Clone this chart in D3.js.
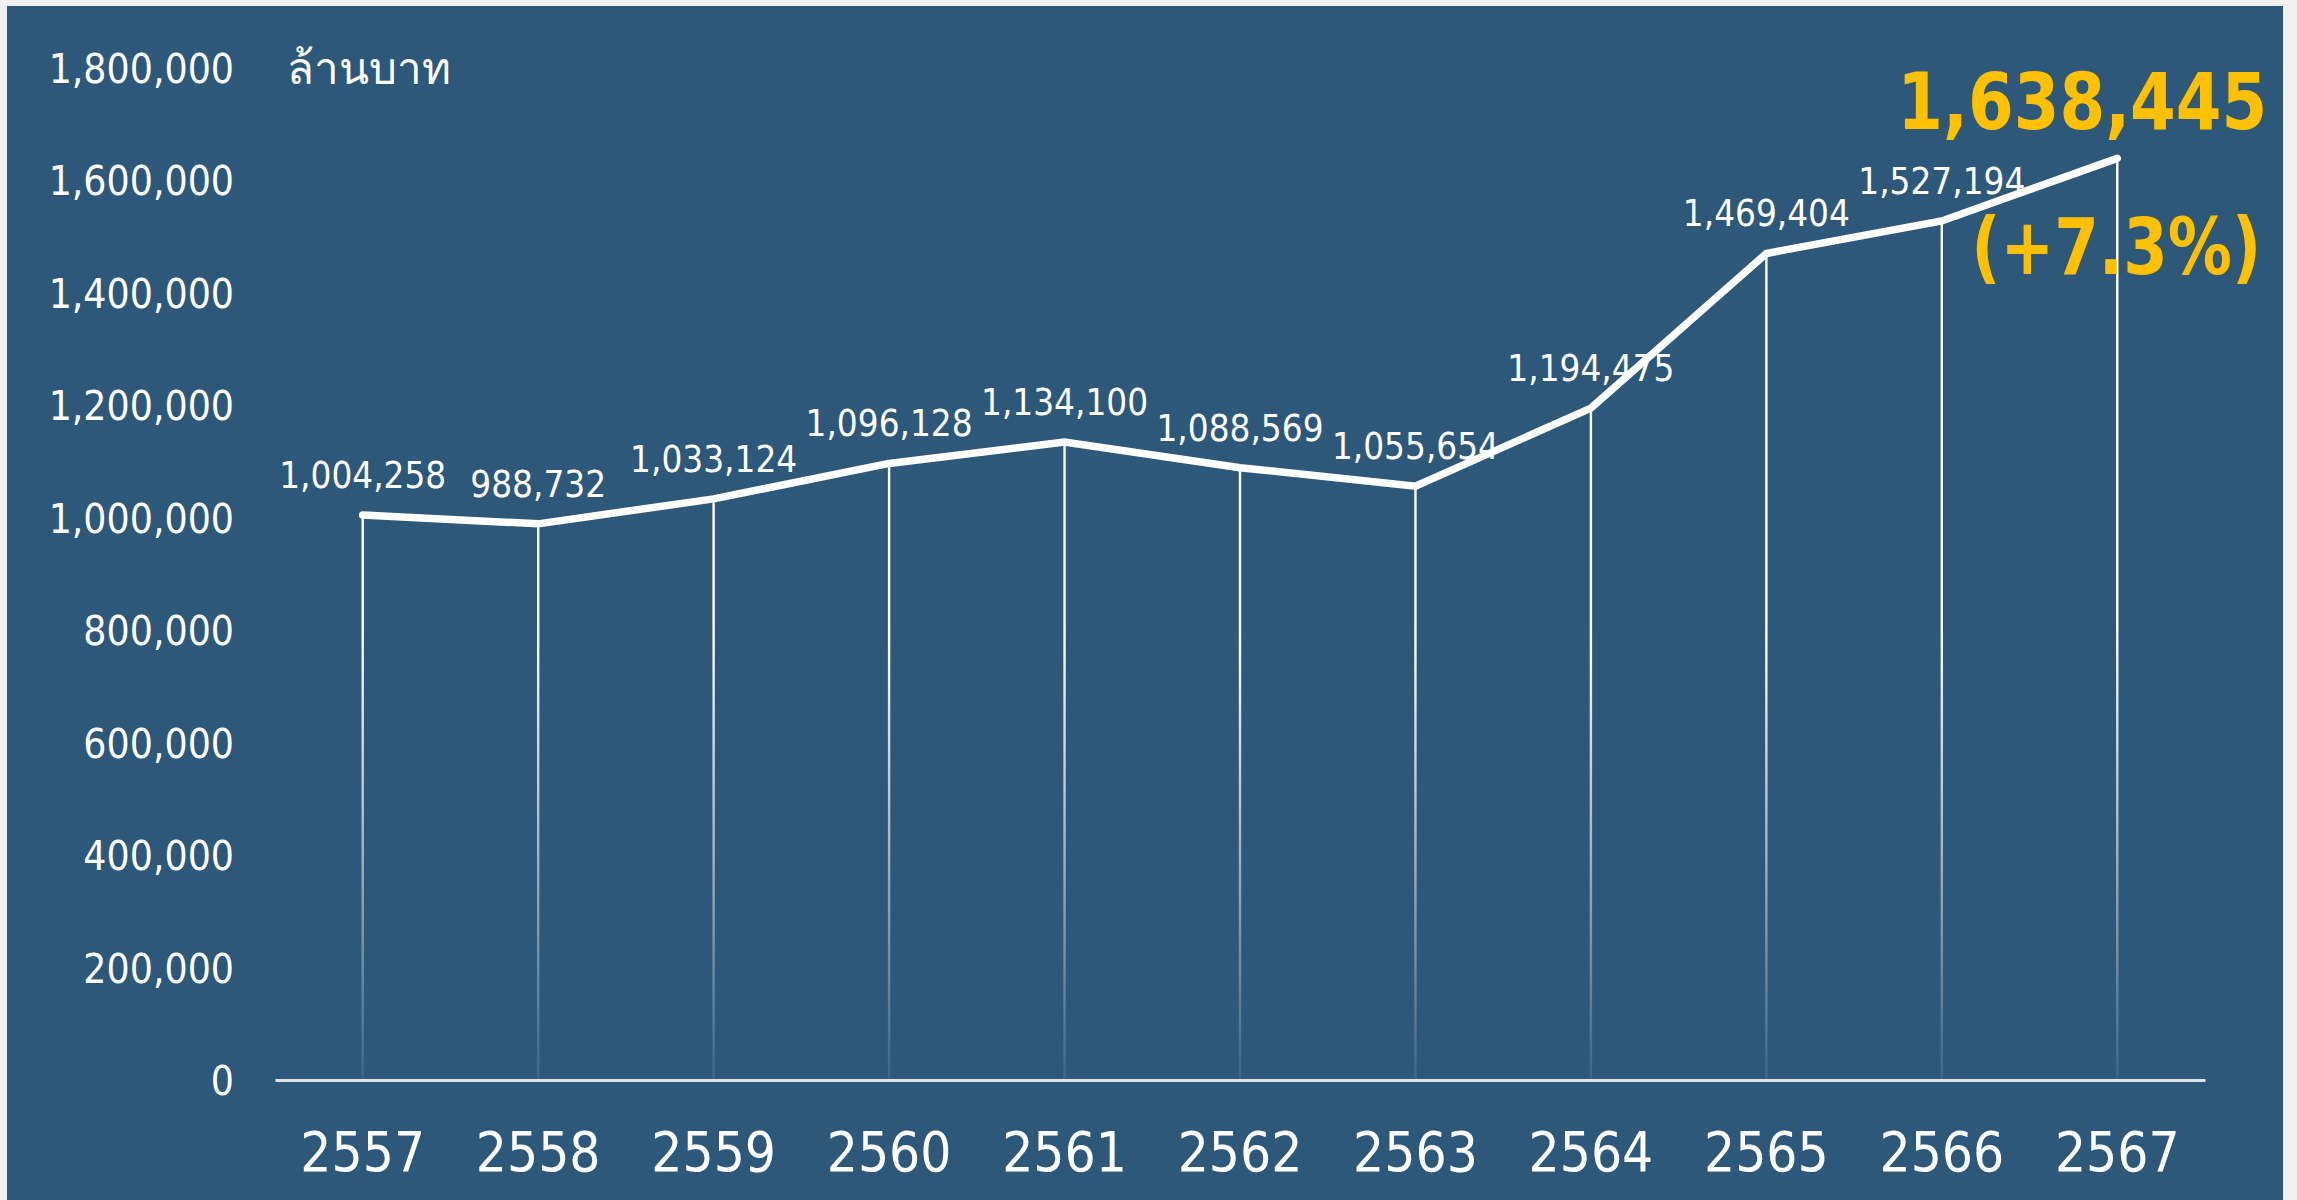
<!DOCTYPE html>
<html>
<head>
<meta charset="utf-8">
<script src="https://cdn.jsdelivr.net/npm/d3@7"></script>
<style>
  html, body { margin: 0; padding: 0; background: #f0f0f0; }
  svg { display: block; }
</style>
</head>
<body>
<svg id="chart" width="2297" height="1200"></svg>
<script>
// ---- data ----
const years = ["2557", "2558", "2559", "2560", "2561", "2562", "2563", "2564", "2565", "2566", "2567"];
const values = [1004258, 988732, 1033124, 1096128, 1134100, 1088569, 1055654, 1194475, 1469404, 1527194, 1638445];
const yTicks = [0, 200000, 400000, 600000, 800000, 1000000, 1200000, 1400000, 1600000, 1800000];
const unitLabel = "ล้านบาท";
const growthLabel = "(+7.3%)";

// ---- layout ----
const W = 2297, H = 1200;
const svg = d3.select("#chart");
const fmt = d3.format(",");
const FONT = '"DejaVu Sans Condensed", "DejaVu Sans", sans-serif';

svg.append("rect").attr("x", 0).attr("y", 0).attr("width", W).attr("height", H).attr("fill", "#f0f0f0");
svg.append("rect").attr("x", 7).attr("y", 6).attr("width", 2276).attr("height", H - 6).attr("fill", "#2e5879");

const x = d3.scaleBand().domain(years).range([275, 2205]).paddingInner(0).paddingOuter(0);
const cx = d => x(d) + x.bandwidth() / 2;
const y = d3.scaleLinear().domain([0, 1800000]).range([1080, 67.5]);

const data = years.map((yr, i) => ({ yr, v: values[i] }));

// gradient for drop lines
const defs = svg.append("defs");
const grad = defs.append("linearGradient").attr("id", "dropGrad")
  .attr("gradientUnits", "userSpaceOnUse")
  .attr("x1", 0).attr("x2", 0).attr("y1", y(800000)).attr("y2", y(0));
grad.append("stop").attr("offset", "0").attr("stop-color", "#ffffff").attr("stop-opacity", 1);
grad.append("stop").attr("offset", "1").attr("stop-color", "#ffffff").attr("stop-opacity", 0.08);

// drop lines
svg.append("g").selectAll("line").data(data).join("line")
  .attr("x1", d => cx(d.yr)).attr("x2", d => cx(d.yr))
  .attr("y1", d => y(d.v)).attr("y2", y(0))
  .attr("stroke", "url(#dropGrad)").attr("stroke-width", 2.4);

// y axis (labels only)
const yAxis = svg.append("g").attr("transform", "translate(234,0)")
  .call(d3.axisLeft(y).tickValues(yTicks).tickSize(0).tickPadding(0).tickFormat(d3.format(",")));
yAxis.select(".domain").remove();
yAxis.selectAll("text").attr("fill", "#ffffff").attr("font-family", FONT).attr("font-size", 40.5)
  .attr("font-stretch", "condensed").attr("dy", "0.36em");

// x axis
const xAxis = svg.append("g").attr("transform", `translate(0,${y(0)})`)
  .call(d3.axisBottom(x).tickSize(0).tickSizeOuter(0).tickPadding(52));
xAxis.select(".domain").attr("stroke", "#dfe4ea").attr("stroke-width", 3);
xAxis.selectAll("text").attr("fill", "#ffffff").attr("font-family", FONT).attr("font-size", 54.5)
  .attr("font-stretch", "condensed");

// unit label
svg.append("text").attr("x", 287).attr("y", y(1800000)).attr("dy", "0.36em")
  .attr("fill", "#ffffff").attr("font-family", FONT).attr("font-size", 45)
  .attr("textLength", 164).attr("lengthAdjust", "spacingAndGlyphs")
  .text(unitLabel);

// main line
const line = d3.line().x(d => cx(d.yr)).y(d => y(d.v));
svg.append("path").datum(data).attr("d", line)
  .attr("fill", "none").attr("stroke", "#ffffff").attr("stroke-width", 7.5)
  .attr("stroke-linejoin", "miter").attr("stroke-linecap", "round");

// data labels (all except last)
svg.append("g").selectAll("text").data(data.slice(0, -1)).join("text")
  .attr("x", d => cx(d.yr)).attr("y", d => y(d.v) - 27)
  .attr("text-anchor", "middle").attr("fill", "#ffffff")
  .attr("font-family", FONT).attr("font-size", 36.5).attr("font-stretch", "condensed")
  .text(d => fmt(d.v));

// highlight last value
const last = data[data.length - 1];
svg.append("text").attr("x", cx(last.yr) - 35).attr("y", y(last.v) - 29)
  .attr("text-anchor", "middle").attr("fill", "#ffc000")
  .attr("font-family", FONT).attr("font-size", 79).attr("font-weight", "bold").attr("font-stretch", "condensed")
  .attr("textLength", 370).attr("lengthAdjust", "spacingAndGlyphs")
  .text(fmt(last.v));
svg.append("text").attr("x", cx(last.yr) - 1).attr("y", y(last.v) + 116)
  .attr("text-anchor", "middle").attr("fill", "#ffc000")
  .attr("font-family", FONT).attr("font-size", 79).attr("font-weight", "bold").attr("font-stretch", "condensed")
  .attr("textLength", 290).attr("lengthAdjust", "spacingAndGlyphs")
  .text(growthLabel);
</script>
</body>
</html>
